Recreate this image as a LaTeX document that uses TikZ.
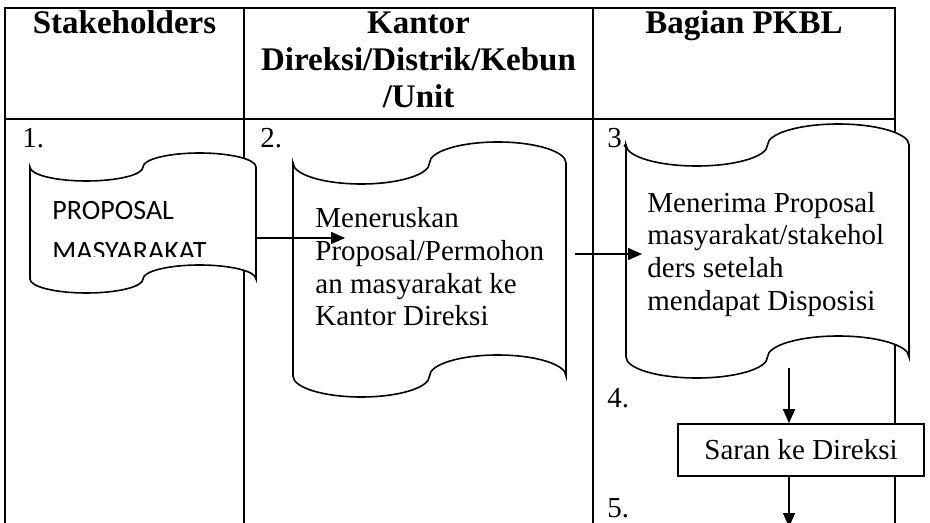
\documentclass[tikz,border=0pt]{standalone}
\usepackage{fontspec}
\setmainfont{Liberation Serif}
\newfontfamily\calibri{Carlito}
\usetikzlibrary{arrows.meta}
% punched tape outline: x0, y0 (top edge), x1, y1 (bottom edge), bend
\newcommand{\ptape}[5]{%
  \pgfmathsetmacro{\qa}{(#3-#1)/4}%
  \pgfmathsetmacro{\qb}{0.552*\qa}%
  \pgfmathsetmacro{\ab}{0.552*#5}%
  \pgfmathsetmacro{\xa}{#1+\qa}%
  \pgfmathsetmacro{\xm}{#1+2*\qa}%
  \pgfmathsetmacro{\xc}{#1+3*\qa}%
  \draw[tapeline] (#1,#2)
    .. controls (#1,{#2+\ab}) and ({\xa-\qb},{#2+#5}) .. (\xa,{#2+#5})
    .. controls ({\xa+\qb},{#2+#5}) and (\xm,{#2+\ab}) .. (\xm,#2)
    .. controls (\xm,{#2-\ab}) and ({\xc-\qb},{#2-#5}) .. (\xc,{#2-#5})
    .. controls ({\xc+\qb},{#2-#5}) and (#3,{#2-\ab}) .. (#3,#2)
    -- (#3,#4)
    .. controls (#3,{#4-\ab}) and ({\xc+\qb},{#4-#5}) .. (\xc,{#4-#5})
    .. controls ({\xc-\qb},{#4-#5}) and (\xm,{#4-\ab}) .. (\xm,#4)
    .. controls (\xm,{#4+\ab}) and ({\xa+\qb},{#4+#5}) .. (\xa,{#4+#5})
    .. controls ({\xa-\qb},{#4+#5}) and (#1,{#4+\ab}) .. (#1,#4)
    -- cycle;}
\begin{document}
\begin{tikzpicture}[x=0.5pt,y=-0.5pt,
    grid/.style={line width=1.2pt},
    tapeline/.style={line width=0.8pt,fill=white},
    head/.style={font=\bfseries\fontsize{16.5}{18.5}\selectfont,align=center,anchor=base,inner sep=0pt},
    num/.style={font=\fontsize{14.5}{16}\selectfont,anchor=base west,inner sep=0pt},
    txt/.style={font=\fontsize{14.5}{16.25}\selectfont,align=left,anchor=base west,inner sep=0pt},
    box/.style={draw,line width=0.8pt,fill=white,minimum width=123pt,minimum height=26pt,inner sep=0pt,font=\fontsize{14.5}{16}\selectfont},
    arr/.style={line width=0.75pt,-{Triangle[length=7pt,width=6pt]}}]
    \clip (0,0) rectangle (930,523);
    % table
    \draw[grid] (5,530) -- (5,8) -- (895,8) -- (895,530);
    \draw[grid] (5,119) -- (895,119);
    \draw[grid] (244,8) -- (244,530);
    \draw[grid] (593,8) -- (593,530);
    \node[head] (hstake) at (124.5,34) {Stakeholders};
    \node[head] (hkantor) at (418.5,108) {Kantor\\Direksi/Distrik/Kebun\\/Unit};
    \node[head] (hpkbl) at (744,34) {Bagian PKBL};
    % tapes
    \ptape{30}{167}{256}{279}{14}
    \ptape{293}{163}{566}{376}{21}
    \ptape{626}{145}{909}{357}{21}
    \begin{scope}
        \clip (30,180) rectangle (256,257);
        \node[txt,font=\calibri\fontsize{14}{20.5}\selectfont] (t1) at (52,261) {PROPOSAL\\MASYARAKAT};
    \end{scope}
    \node[txt] (t2) at (315,325.5) {Meneruskan\\Proposal/Permohon\\an masyarakat ke\\Kantor Direksi};
    \node[txt] (t3) at (647,310) {Menerima Proposal\\masyarakat/stakehol\\ders setelah\\mendapat Disposisi};
    \node[num] (n1) at (22,148) {1.};
    \node[num] (n2) at (260,148) {2.};
    \node[num] (n3) at (607,148) {3.};
    \node[num] (n4) at (607,407) {4.};
    \node[num] (n5) at (607,517) {5.};
    \node[box] (saran) at (801,450) {Saran ke Direksi};
    % arrows
    \coordinate (o1) at (256,238);
    \coordinate (i2) at (345,238);
    \coordinate (o2) at (575,254);
    \coordinate (i3) at (642,254);
    \coordinate (o3) at (789,368);
    \coordinate (e5) at (789,527);
    \draw[arr] (o1) -- (i2);
    \draw[arr] (o2) -- (i3);
    \draw[arr] (o3) -- (o3 |- saran.north);
    \draw[arr] (saran.south -| o3) -- (e5);
\end{tikzpicture}
\end{document}
